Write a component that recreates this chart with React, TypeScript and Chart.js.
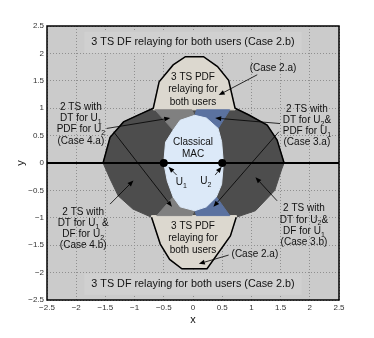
import React, { useEffect, useRef } from 'react';
import { Chart, registerables } from 'chart.js';
Chart.register(...registerables);

// ---------- data ----------
const tickValues = [-2.5, -2, -1.5, -1, -0.5, 0, 0.5, 1, 1.5, 2, 2.5];
const xTickLabels = ['−2.5', '−2', '−1.5', '−1', '−0.5', '0', '0.5', '1', '1.5', '2', '2.5'];
const yTickLabels = ['−2.5', '−2', '−1.5', '−1', '−0.5', '0', '0.5', '1', '1.5', '2', '2.5'];

// boundary pieces of the 2 TS / 3 TS PDF region
const pdfTopEdge = [[-0.68, 1.0], [-0.58, 1.48], [-0.34, 1.79], [-0.13, 1.94], [0.18, 1.94], [0.42, 1.76], [0.61, 1.51], [0.72, 1.0]];
const rightTopEdge = [[0.95, 0.88], [1.27, 0.69], [1.44, 0.42], [1.56, 0]];
const rightBottomEdge = [[1.52, -0.11], [1.4, -0.5], [1.07, -0.87]];
const pdfBottomEdge = [[0.74, -0.99], [0.64, -1.33], [0.24, -1.93], [-0.19, -1.93], [-0.4, -1.76], [-0.56, -1.48], [-0.71, -0.99]];
const leftBottomEdge = [[-1.03, -0.84], [-1.28, -0.6], [-1.42, -0.29], [-1.54, 0]];
const leftTopEdge = [[-1.42, 0.47], [-1.19, 0.75], [-0.95, 0.87]];

const pdfTopFloor = [[0.72, 0.97], [-0.68, 0.97]];
const pdfBottomCeil = [[-0.71, -0.96], [0.74, -0.96]];

// Case 4.a lobes (DT for U1, PDF for U2)
const case4aTop = [[-0.65, 0.97], [-0.02, 0.97], [0.03, 0.86], [-0.2, 0.5], [-0.34, 0.6]];
const case4aBottom = [[-0.62, -0.96], [-0.02, -0.96], [0.03, -0.86], [-0.2, -0.5], [-0.34, -0.62]];
// Case 3.a lobes (DT for U2, PDF for U1)
const case3aTop = [[0.06, 0.97], [0.63, 0.97], [0.43, 0.63], [0.2, 0.5], [0.03, 0.86]];
const case3aBottom = [[0.06, -0.96], [0.63, -0.96], [0.4, -0.62], [0.2, -0.5], [0.03, -0.86]];
// Classical MAC
const macRegion = [[0.03, 0.87], [0.23, 0.82], [0.43, 0.63], [0.49, 0.39], [0.52, 0], [0.49, -0.39], [0.4, -0.62], [0.23, -0.8], [0.03, -0.87], [-0.22, -0.8], [-0.34, -0.62], [-0.44, -0.33], [-0.5, 0], [-0.47, 0.38], [-0.34, 0.6], [-0.22, 0.78]];

const axisLine = [[-2.5, 0], [2.5, 0]];
const userPoints = [[-0.5, 0], [0.5, 0]];

// ---------- annotation content ----------
type Seg = { t: string; sub?: boolean };
const S = (t: string): Seg => ({ t });
const B = (t: string): Seg => ({ t, sub: true });
type Label = { x: number; y: number; lines: Seg[][]; box?: boolean; size?: number; lh?: number };

const labels: Label[] = [
  { x: 0, y: 2.2, lines: [[S('3 TS DF relaying for both users (Case 2.b)')]], box: true, size: 10.8 },
  { x: 0, y: -2.21, lines: [[S('3 TS DF relaying for both users (Case 2.b)')]], box: true, size: 10.8 },
  { x: 0, y: 1.34, lines: [[S('3 TS PDF')], [S('relaying for')], [S('both users')]], lh: 12.3 },
  { x: 0, y: -1.37, lines: [[S('3 TS PDF')], [S('relaying for')], [S('both users')]], lh: 12.3 },
  { x: 0, y: 0.27, lines: [[S('Classical')], [S('MAC')]], lh: 12.5 },
  { x: 1.37, y: 1.73, lines: [[S('(Case 2.a)')]] },
  { x: 1.06, y: -1.66, lines: [[S('(Case 2.a)')]] },
  { x: -1.92, y: 0.71, lines: [[S('2 TS with')], [S('DT for U'), B('1')], [S('PDF for U'), B('2')], [S('(Case 4.a)')]] },
  { x: 1.95, y: 0.68, lines: [[S('2 TS with')], [S('DT for U'), B('2'), S('&')], [S('PDF for U'), B('1')], [S('(Case 3.a)')]] },
  { x: 1.9, y: -1.14, lines: [[S('2 TS with')], [S('DT for U'), B('2'), S('&')], [S('DF for U'), B('1')], [S('(Case 3.b)')]] },
  { x: -1.88, y: -1.2, lines: [[S('2 TS with')], [S('DT for U'), B('1'), S(' &')], [S('DF for U'), B('2')], [S('(Case 4.b)')]] },
  { x: -0.2, y: -0.36, lines: [[S('U'), B('1')]] },
  { x: 0.22, y: -0.34, lines: [[S('U'), B('2')]] },
];

const arrows: { from: number[]; to: number[] }[] = [
  { from: [1.1, 1.61], to: [0.44, 1.24] },
  { from: [-1.48, 0.63], to: [-0.39, 0.82] },
  { from: [-1.36, 0.57], to: [-0.36, -0.8] },
  { from: [1.49, 0.72], to: [0.38, 0.82] },
  { from: [1.47, 0.57], to: [0.35, -0.8] },
  { from: [1.44, -0.69], to: [1.07, -0.26] },
  { from: [-1.42, -0.75], to: [-1.02, -0.32] },
  { from: [0.61, -1.68], to: [0.1, -1.84] },
  { from: [-0.28, -0.22], to: [-0.42, -0.07] },
  { from: [0.38, -0.22], to: [0.49, -0.07] },
];

// ---------- styling ----------
const FONT = "'Liberation Sans', Arial, sans-serif";
const C_BG = '#cbcbcb';
const C_BOX = '#d0d0d0';
const C_DARK = '#4d4d4d';
const C_BEIGE = '#dcd8cf';
const C_GRAY = '#808080';
const C_BLUE = '#5b72a0';
const C_MAC = '#dce9f8';

const pts = (a: number[][]) => a.map(([x, y]) => ({ x, y }));
const closed = (a: number[][]) => pts([...a, a[0]]);

function polyDs(data: any, color: string) {
  return {
    data,
    showLine: true,
    fill: 'shape',
    backgroundColor: color,
    borderColor: color,
    borderWidth: 1,
    pointRadius: 0,
    tension: 0,
  };
}

function lineDs(data: any, width: number) {
  return {
    data,
    showLine: true,
    fill: false,
    borderColor: '#000',
    borderWidth: width,
    pointRadius: 0,
    tension: 0,
  };
}

const lbl = (arr: string[]) => (v: any) => {
  const i = tickValues.findIndex((t) => Math.abs(t - Number(v)) < 1e-6);
  return i >= 0 ? arr[i] : '';
};

const plotBg = {
  id: 'plotBg',
  beforeDraw(chart: any) {
    const { ctx, chartArea: a } = chart;
    ctx.save();
    ctx.fillStyle = C_BG;
    ctx.fillRect(a.left, a.top, a.right - a.left, a.bottom - a.top);
    ctx.restore();
  },
};

const annot = {
  id: 'annot',
  afterDraw(chart: any) {
    const { ctx, chartArea: a } = chart;
    const xs = chart.scales.x;
    const ys = chart.scales.y;
    const px = (v: number) => xs.getPixelForValue(v);
    const py = (v: number) => ys.getPixelForValue(v);

    ctx.save();
    // arrows
    ctx.strokeStyle = '#000';
    ctx.fillStyle = '#000';
    ctx.lineWidth = 0.8;
    for (const ar of arrows) {
      const x1 = px(ar.from[0]), y1 = py(ar.from[1]);
      const x2 = px(ar.to[0]), y2 = py(ar.to[1]);
      const ang = Math.atan2(y2 - y1, x2 - x1);
      const L = 6, W = 2.4;
      const bx = x2 - L * Math.cos(ang), by = y2 - L * Math.sin(ang);
      ctx.beginPath();
      ctx.moveTo(x1, y1);
      ctx.lineTo(bx, by);
      ctx.stroke();
      ctx.beginPath();
      ctx.moveTo(x2, y2);
      ctx.lineTo(bx + W * Math.sin(ang), by - W * Math.cos(ang));
      ctx.lineTo(bx - W * Math.sin(ang), by + W * Math.cos(ang));
      ctx.closePath();
      ctx.fill();
    }

    // labels
    ctx.textBaseline = 'middle';
    ctx.textAlign = 'left';
    for (const L of labels) {
      const size = L.size || 10;
      const lh = L.lh || 11.3;
      const mainFont = `${size}px ${FONT}`;
      const subFont = `${size * 0.7}px ${FONT}`;
      const cx = px(L.x), cy = py(L.y);
      const widths = L.lines.map((line) =>
        line.reduce((w, s) => {
          ctx.font = s.sub ? subFont : mainFont;
          return w + ctx.measureText(s.t).width;
        }, 0)
      );
      if (L.box) {
        const w = Math.max(...widths) + 14;
        const h = L.lines.length * lh + 10;
        ctx.fillStyle = C_BOX;
        ctx.fillRect(cx - w / 2, cy - h / 2, w, h);
      }
      ctx.fillStyle = '#111';
      const y0 = cy - ((L.lines.length - 1) * lh) / 2;
      L.lines.forEach((line, i) => {
        let x = cx - widths[i] / 2;
        const y = y0 + i * lh;
        for (const s of line) {
          ctx.font = s.sub ? subFont : mainFont;
          ctx.fillText(s.t, x, s.sub ? y + 3.5 : y);
          x += ctx.measureText(s.t).width;
        }
      });
    }

    // axis frame
    ctx.strokeStyle = '#000';
    ctx.lineWidth = 1.5;
    ctx.strokeRect(a.left, a.top, a.right - a.left, a.bottom - a.top);

    // axis titles
    ctx.fillStyle = '#111';
    ctx.font = `11px ${FONT}`;
    ctx.textAlign = 'center';
    ctx.textBaseline = 'middle';
    ctx.fillText('x', (a.left + a.right) / 2, a.bottom + 20);
    ctx.translate(a.left - 26, (a.top + a.bottom) / 2);
    ctx.rotate(-Math.PI / 2);
    ctx.fillText('y', 0, 0);
    ctx.restore();
  },
};

export default function App() {
  const ref = useRef<HTMLCanvasElement | null>(null);

  useEffect(() => {
    if (!ref.current) return;
    const outer = [...pdfTopEdge, ...rightTopEdge, ...rightBottomEdge, ...pdfBottomEdge, ...leftBottomEdge, ...leftTopEdge];
    const layers = [
      polyDs(closed(outer), C_DARK),
      polyDs(closed([...pdfTopEdge, ...pdfTopFloor]), C_BEIGE),
      polyDs(closed([...pdfBottomCeil, ...pdfBottomEdge]), C_BEIGE),
      polyDs(closed(case4aTop), C_GRAY),
      polyDs(closed(case4aBottom), C_GRAY),
      polyDs(closed(case3aTop), C_BLUE),
      polyDs(closed(case3aBottom), C_BLUE),
      polyDs(closed(macRegion), C_MAC),
      lineDs(pts([[-1.54, 0], ...leftTopEdge, ...pdfTopEdge, ...rightTopEdge]), 1.5),
      lineDs(pts(pdfBottomEdge), 1.5),
      lineDs(pts(axisLine), 2),
      {
        data: pts(userPoints),
        showLine: false,
        pointRadius: 4,
        pointBackgroundColor: '#000',
        pointBorderColor: '#000',
        pointBorderWidth: 0,
      },
    ];
    const n = layers.length;
    const datasets = layers.map((d, i) => ({ ...d, order: n - i }));

    const gridColor = '#8f8f8f';
    const common = {
      type: 'linear',
      min: -2.5,
      max: 2.5,
      z: 1,
      border: { display: false, dash: [1, 2] },
      grid: { color: gridColor, lineWidth: 1, drawTicks: false },
    };

    const chart = new Chart(ref.current, {
      type: 'scatter',
      data: { datasets: datasets as any },
      options: {
        responsive: false,
        animation: false,
        events: [],
        layout: { padding: { left: 0, right: 35, top: 26, bottom: 0 } },
        plugins: { legend: { display: false }, tooltip: { enabled: false } },
        scales: {
          x: {
            ...common,
            position: 'bottom',
            afterFit: (s: any) => { s.height = 38; },
            afterBuildTicks: (s: any) => { s.ticks = tickValues.map((v) => ({ value: v })); },
            ticks: { callback: lbl(xTickLabels), padding: 3, color: '#333', font: { size: 8, family: FONT }, maxRotation: 0, autoSkip: false },
          },
          y: {
            ...common,
            position: 'left',
            afterFit: (s: any) => { s.width = 47; },
            afterBuildTicks: (s: any) => { s.ticks = tickValues.map((v) => ({ value: v })); },
            grid: {
              ...common.grid,
              color: (c: any) => (c.tick && Math.abs(c.tick.value) < 1e-6 ? 'rgba(0,0,0,0)' : gridColor),
            },
            ticks: { callback: lbl(yTickLabels), padding: 3, color: '#333', font: { size: 8, family: FONT }, autoSkip: false },
          },
        },
      } as any,
      plugins: [plotBg, annot],
    });
    return () => chart.destroy();
  }, []);

  return (
    <div style={{ position: 'fixed', left: 0, top: 0, width: 374, height: 338, background: '#fff' }}>
      <canvas ref={ref} width={374} height={338} style={{ width: 374, height: 338, display: 'block' }} />
    </div>
  );
}
